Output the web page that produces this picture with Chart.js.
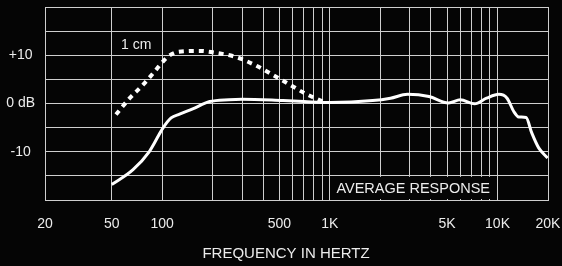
<!DOCTYPE html>
<html>
<head>
<meta charset="utf-8">
<script src="https://cdn.jsdelivr.net/npm/chart.js@4/dist/chart.umd.min.js"></script>
<style>
  html, body { margin: 0; padding: 0; background: #050505; }
  #wrap { width: 562px; height: 266px; }
</style>
</head>
<body>
<div id="wrap"><canvas id="resp"></canvas></div>
<script>
// frequency response
const avgFreq = [50, 67, 84, 101, 113, 127, 152, 192, 250, 300, 525, 700, 1000, 1800, 2300, 2900, 3900, 5100, 6000, 7300, 8600, 10200, 11400, 12500, 13400, 14800, 16000, 17600, 19900];
const avgDb   = [-16.8, -13.7, -9.9, -5.1, -3.0, -2.2, -1.1, 0.4, 0.8, 0.9, 0.6, 0.4, 0.2, 0.6, 1.1, 1.9, 1.45, 0.1, 0.76, -0.06, 1.1, 1.9, 1.1, -1.65, -2.8, -2.9, -6.1, -9.2, -11.3];
const cmFreq  = [53, 64, 77, 90, 101, 110, 124, 167, 210, 277, 356, 448, 564, 710, 910];
const cmDb    = [-2.3, 1.1, 3.9, 6.6, 8.7, 9.9, 10.7, 10.9, 10.5, 9.6, 8.0, 6.1, 4.1, 2.1, 0.4];

const xGrid   = [20, 50, 100, 200, 300, 400, 500, 600, 700, 800, 900, 1000, 2000, 3000, 4000, 5000, 6000, 7000, 8000, 9000, 10000, 20000];
const xLabels = { 20: '20', 50: '50', 100: '100', 500: '500', 1000: '1K', 5000: '5K', 10000: '10K', 20000: '20K' };
const yLabels = { 10: '+10', 0: '0 dB', '-10': '-10' };

const fg = '#ececec';
const gridCol = '#cfcfcf';
const font = '"Liberation Sans", Arial, sans-serif';

const toPts = (xs, ys) => xs.map((f, i) => ({ x: f, y: ys[i] }));

// box with "AVERAGE RESPONSE", the "1 cm" note and the axis title
const notes = {
  id: 'notes',
  beforeDatasetsDraw(chart) {
    const { ctx, scales: { x, y } } = chart;
    const x0 = x.getPixelForValue(1000), x1 = x.getPixelForValue(10000);
    const y0 = y.getPixelForValue(-15), y1 = y.getPixelForValue(-20);
    ctx.save();
    ctx.fillStyle = '#050505';
    ctx.fillRect(x0 + 1, y0 + 1, x1 - x0 - 2, y1 - y0 - 2);
    ctx.fillStyle = fg;
    ctx.font = '14.5px ' + font;
    ctx.textAlign = 'center';
    ctx.textBaseline = 'middle';
    ctx.fillText('AVERAGE RESPONSE', (x0 + x1) / 2 - 0.5, (y0 + y1) / 2 + 1);
    ctx.font = '14px ' + font;
    ctx.fillText('1 cm', x.getPixelForValue(70), y.getPixelForValue(12.1));
    // title sits a little left of the plot centre in the original
    ctx.font = '15px ' + font;
    ctx.fillText('FREQUENCY IN HERTZ', 286, chart.height - 12);
    ctx.restore();
  }
};

new Chart(document.getElementById('resp'), {
  type: 'scatter',
  data: {
    datasets: [
      {
        label: 'average',
        data: toPts(avgFreq, avgDb),
        showLine: true,
        borderColor: '#ffffff',
        borderWidth: 3,
        pointRadius: 0,
        tension: 0.4,
        cubicInterpolationMode: 'monotone'
      },
      {
        label: '1 cm',
        data: toPts(cmFreq, cmDb),
        showLine: true,
        borderColor: '#ffffff',
        borderWidth: 4,
        borderDash: [5, 5],
        pointRadius: 0,
        tension: 0.4,
        cubicInterpolationMode: 'monotone'
      }
    ]
  },
  options: {
    responsive: true,
    maintainAspectRatio: false,
    animation: false,
    layout: { padding: { top: 7, right: 14, left: 0, bottom: 0 } },
    plugins: { legend: { display: false }, tooltip: { enabled: false } },
    scales: {
      x: {
        type: 'logarithmic',
        min: 20,
        max: 20000,
        afterBuildTicks: (s) => { s.ticks = xGrid.map(v => ({ value: v })); },
        afterFit: (s) => { s.height = 66; s.paddingLeft = 0; s.paddingRight = 0; },
        grid: { color: gridCol, lineWidth: 1, drawTicks: false },
        border: { color: gridCol },
        ticks: {
          autoSkip: false,
          maxRotation: 0,
          padding: 16,
          color: fg,
          font: { family: font, size: 14 },
          callback: (v) => xLabels[v] || ''
        }
      },
      y: {
        min: -20,
        max: 20,
        afterFit: (s) => { s.width = 45; s.paddingTop = 0; s.paddingBottom = 0; },
        grid: { color: gridCol, lineWidth: 1, drawTicks: false },
        border: { color: gridCol },
        ticks: {
          stepSize: 5,
          padding: 10,
          crossAlign: 'center',
          color: fg,
          font: { family: font, size: 14 },
          callback: (v) => yLabels[v] || ''
        }
      }
    }
  },
  plugins: [notes]
});
</script>
</body>
</html>
